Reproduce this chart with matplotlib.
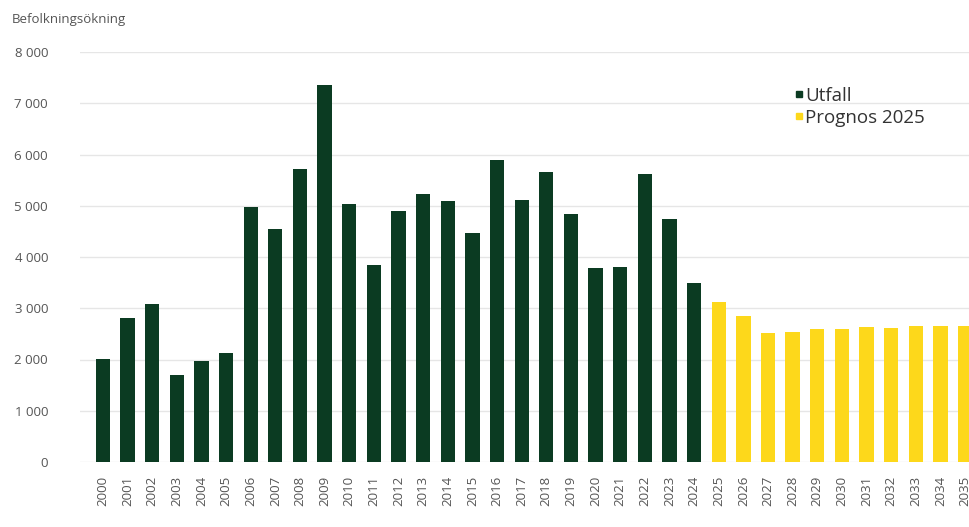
import matplotlib
matplotlib.use("Agg")
import matplotlib.pyplot as plt
from matplotlib.lines import Line2D

plt.rcParams['font.family'] = ['Open Sans', 'DejaVu Sans']

years_utfall = [str(y) for y in range(2000, 2025)]
values_utfall = [2010, 2810, 3090, 1690, 1980, 2130, 4970, 4540, 5710, 7350,
                 5040, 3850, 4900, 5230, 5100, 4460, 5900, 5120, 5650, 4840,
                 3780, 3800, 5610, 4750, 3490]
years_prognos = [str(y) for y in range(2025, 2036)]
values_prognos = [3130, 2840, 2510, 2530, 2590, 2600, 2630, 2620, 2660, 2660, 2660]

y_ticks = [0, 1000, 2000, 3000, 4000, 5000, 6000, 7000, 8000]
y_ticklabels = ["0", "1 000", "2 000", "3 000", "4 000", "5 000", "6 000", "7 000", "8 000"]

green = "#0b3b22"
yellow = "#fdd81b"

fig = plt.figure(figsize=(9.69, 5.27), dpi=100)
ax = fig.add_axes([80/969, 1 - 462/527, 1 - 80/969, (462 - 52)/527])

labels = years_utfall + years_prognos
n1 = len(years_utfall)
x1 = list(range(n1))
x2 = list(range(n1, n1 + len(years_prognos)))
ax.bar(x1, values_utfall, width=0.58, color=green, zorder=3)
ax.bar(x2, values_prognos, width=0.58, color=yellow, zorder=3)

ax.set_xlim(-0.93, 35.16)
ax.set_ylim(0, 8000)
ax.set_yticks(y_ticks)
ax.set_yticklabels(y_ticklabels)
ax.set_xticks(x1 + x2)
ax.set_xticklabels(labels, rotation=90)
ax.grid(axis='y', color='#e6e6e6', linewidth=1.0, zorder=0)
for s in ax.spines.values():
    s.set_visible(False)
ax.tick_params(axis='both', length=0, colors='#555555', labelsize=9.5)
ax.tick_params(axis='y', pad=23)
ax.tick_params(axis='x', pad=10)

fig.text(12/969, 1 - 20/527, "Befolkningsökning", fontsize=9.5, color='#555555',
         ha='left', va='center')

handles = [Line2D([], [], marker='s', linestyle='none', color=green, markersize=5),
           Line2D([], [], marker='s', linestyle='none', color=yellow, markersize=5)]
fig.legend(handles, ["Utfall", "Prognos 2025"], loc='upper left',
           bbox_to_anchor=(776/969, 1 - 70/527), frameon=False, fontsize=13.5,
           handletextpad=0.05, handlelength=0.6, labelspacing=0.2,
           labelcolor='#333333')

fig.savefig("out.png", dpi=100)
